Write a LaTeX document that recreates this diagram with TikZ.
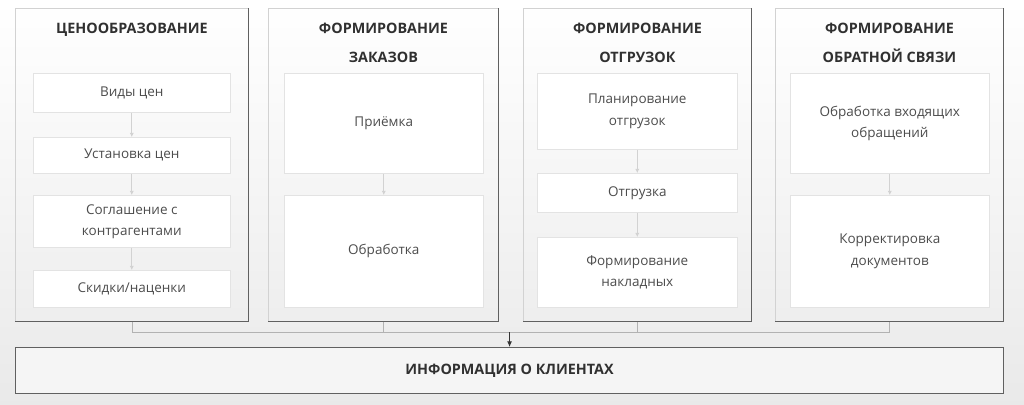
\documentclass[tikz,border=0pt]{standalone}
\usepackage{fontspec}
\setmainfont{Open Sans}
\usepackage{tikz}
\usetikzlibrary{arrows.meta}

\definecolor{titlegray}{HTML}{303030}
\definecolor{textgray}{HTML}{4C4C4C}
\newcommand{\pxu}{0.025cm}

\begin{document}
\begin{tikzpicture}[x=0.025cm,y=-0.025cm,
		colbox/.style={draw=gray!35,line width=0.6pt,inner sep=0pt,anchor=north west},
		itembox/.style={draw=gray!22,fill=white,inner sep=0pt,anchor=north west,
			text=textgray,align=center,font=\fontsize{9.6}{15}\selectfont},
		coltitle/.style={anchor=north,inner sep=0pt,text=titlegray,align=center,
			font=\bfseries\fontsize{10.2}{20.6}\selectfont},
		link/.style={draw=gray!35,line width=0.5pt,-{Latex[length=3pt,width=3pt]}},
		bus/.style={draw=gray!60,line width=0.6pt}]
		% background
		\shade[top color=white,bottom color=gray!17] (0,0) rectangle (1024,404);
		\useasboundingbox (0,0) rectangle (1024,404);
		
		% columns
		\node[colbox,minimum width=233*\pxu,minimum height=313*\pxu] (price) at (15,8) {};
		\node[colbox,minimum width=230*\pxu,minimum height=313*\pxu] (orders) at (268,8) {};
		\node[colbox,minimum width=228*\pxu,minimum height=313*\pxu] (ship) at (523,8) {};
		\node[colbox,minimum width=228*\pxu,minimum height=313*\pxu] (feedback) at (775,8) {};
		% darker right and bottom edges
		\foreach \c in {price,orders,ship,feedback}
		\draw[gray!75!black,line width=0.8pt] (\c.north east) -- (\c.south east) -- (\c.south west);
		
		% titles
		\node[coltitle] (priceT) at (price.north |- 0,23) {ЦЕНООБРАЗОВАНИЕ};
		\node[coltitle] (ordersT) at (orders.north |- 0,23) {ФОРМИРОВАНИЕ\\ЗАКАЗОВ};
		\node[coltitle] (shipT) at (ship.north |- 0,23) {ФОРМИРОВАНИЕ\\ОТГРУЗОК};
		\node[coltitle] (feedbackT) at (feedback.north |- 0,23) {ФОРМИРОВАНИЕ\\ОБРАТНОЙ СВЯЗИ};
		
		% pricing
		\node[itembox,minimum width=197*\pxu,minimum height=39*\pxu] (types) at (33,73) {Виды цен};
		\node[itembox,minimum width=197*\pxu,minimum height=36*\pxu] (setprice) at (33,137) {Установка цен};
		\node[itembox,minimum width=197*\pxu,minimum height=52*\pxu] (agree) at (33,195) {Соглашение с\\контрагентами};
		\node[itembox,minimum width=197*\pxu,minimum height=37*\pxu] (disc) at (33,270) {Скидки/наценки};
		\draw[link] (types) -- (setprice);
		\draw[link] (setprice) -- (agree);
		\draw[link] (agree) -- (disc);
		
		% orders
		\node[itembox,minimum width=199*\pxu,minimum height=100*\pxu] (accept) at (284,73) {Приёмка};
		\node[itembox,minimum width=199*\pxu,minimum height=112*\pxu] (process) at (284,195) {Обработка};
		\draw[link] (accept) -- (process);
		
		% shipments
		\node[itembox,minimum width=200*\pxu,minimum height=76*\pxu] (plan) at (537,73) {Планирование\\отгрузок};
		\node[itembox,minimum width=200*\pxu,minimum height=39*\pxu] (shipping) at (537,173) {Отгрузка};
		\node[itembox,minimum width=200*\pxu,minimum height=70*\pxu] (waybill) at (537,237) {Формирование\\накладных};
		\draw[link] (plan) -- (shipping);
		\draw[link] (shipping) -- (waybill);
		
		% feedback
		\node[itembox,minimum width=199*\pxu,minimum height=100*\pxu] (incoming) at (790,73) {Обработка входящих\\обращений};
		\node[itembox,minimum width=199*\pxu,minimum height=112*\pxu] (correct) at (790,195) {Корректировка\\документов};
		\draw[link] (incoming) -- (correct);
		
		% client information
		\node[anchor=north west,inner sep=0pt,draw=gray!75!black,line width=0.8pt,fill=gray!8,
			minimum width=988*\pxu,minimum height=46*\pxu,text=titlegray,
			font=\bfseries\fontsize{10.2}{11}\selectfont] (info) at (15,347) {ИНФОРМАЦИЯ О КЛИЕНТАХ};
		
		% collecting line
		\coordinate (join) at (info.north |- 0,332);
		\draw[bus] (price.south) |- (join) -| (feedback.south);
		\draw[bus] (orders.south) -- (orders.south |- join);
		\draw[bus] (ship.south) -- (ship.south |- join);
		\draw[bus,draw=gray!40!black,-{Latex[length=4pt,width=3.5pt]}] (join) -- (info.north);
	\end{tikzpicture}
\end{document}
